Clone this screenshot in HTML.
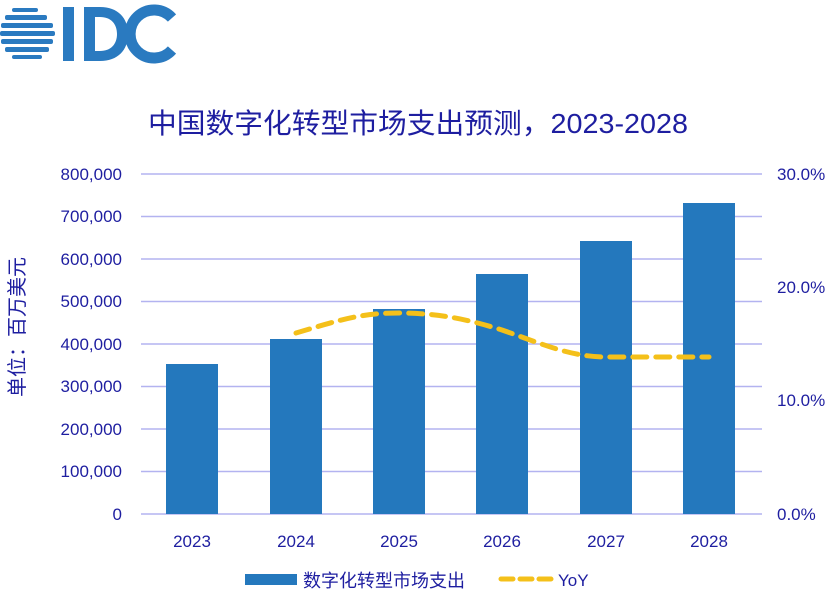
<!DOCTYPE html>
<html><head><meta charset="utf-8"><style>
body{margin:0;background:#fff;}
svg text{font-family:"Liberation Sans","Noto Sans CJK SC",sans-serif;}
</style></head><body>
<svg width="836" height="597" viewBox="0 0 836 597" xmlns="http://www.w3.org/2000/svg">
<g fill="#2a7ac0">
<rect x="12" y="8" width="26" height="4" rx="2"/>
<rect x="5" y="15" width="42" height="5" rx="2"/>
<rect x="1" y="23" width="52" height="5" rx="2"/>
<rect x="0" y="31" width="55" height="5" rx="2"/>
<rect x="1" y="39" width="52" height="5" rx="2"/>
<rect x="5" y="47" width="44" height="5" rx="2"/>
<rect x="12" y="55" width="30" height="4" rx="2"/>
<rect x="63" y="7" width="11" height="54"/>
</g>
<path d="M84 7h16c18 0 28 11 28 27s-10 27-28 27h-16z M95 17v34h5c11 0 17-7 17-17s-6-17-17-17z" fill="#2a7ac0" fill-rule="evenodd"/>
<path d="M172 18a24 24 0 1 0 0 32" fill="none" stroke="#2a7ac0" stroke-width="11"/>
<text x="418" y="133" text-anchor="middle" font-size="28" fill="#1e1ea0" textLength="540" lengthAdjust="spacingAndGlyphs">中国数字化转型市场支出预测，2023-2028</text>
<g stroke="#b3b3f0" stroke-width="1.5">
<line x1="141" y1="174" x2="762" y2="174"/><line x1="141" y1="216.5" x2="762" y2="216.5"/>
<line x1="141" y1="259" x2="762" y2="259"/><line x1="141" y1="301.5" x2="762" y2="301.5"/>
<line x1="141" y1="344" x2="762" y2="344"/><line x1="141" y1="386.5" x2="762" y2="386.5"/>
<line x1="141" y1="429" x2="762" y2="429"/><line x1="141" y1="471.5" x2="762" y2="471.5"/>
<line x1="141" y1="514" x2="762" y2="514"/>
</g>
<g fill="#2478bd">
<rect x="166" y="364" width="52" height="150"/>
<rect x="270" y="339" width="52" height="175"/>
<rect x="373" y="309" width="52" height="205"/>
<rect x="476" y="274" width="52" height="240"/>
<rect x="580" y="241" width="52" height="273"/>
<rect x="683" y="203" width="52" height="311"/>
</g>
<path d="M296 333 C340 320 360 313 399 313 C440 313 470 320 502 330 C540 343 570 357 606 357 C650 357 680 357 709 357" fill="none" stroke="#f4c01a" stroke-width="5" stroke-dasharray="14 9" stroke-linecap="round"/>
<g font-size="17" fill="#1e1ea0" text-anchor="end">
<text x="122" y="180">800,000</text><text x="122" y="222">700,000</text>
<text x="122" y="265">600,000</text><text x="122" y="307">500,000</text>
<text x="122" y="350">400,000</text><text x="122" y="392">300,000</text>
<text x="122" y="435">200,000</text><text x="122" y="477">100,000</text>
<text x="122" y="520">0</text>
</g>
<g font-size="17" fill="#1e1ea0">
<text x="777" y="180">30.0%</text><text x="777" y="293">20.0%</text>
<text x="777" y="406">10.0%</text><text x="777" y="520">0.0%</text>
</g>
<g font-size="17" fill="#1e1ea0" text-anchor="middle">
<text x="192" y="547">2023</text><text x="296" y="547">2024</text><text x="399" y="547">2025</text>
<text x="502" y="547">2026</text><text x="606" y="547">2027</text><text x="709" y="547">2028</text>
</g>
<text transform="translate(24,327) rotate(-90)" text-anchor="middle" font-size="20" fill="#1e1ea0">单位：百万美元</text>
<rect x="245" y="574" width="52" height="11" fill="#2478bd"/>
<text x="303" y="587" font-size="18" fill="#1e1ea0">数字化转型市场支出</text>
<line x1="501" y1="579" x2="551" y2="579" stroke="#f4c01a" stroke-width="5" stroke-dasharray="12 7" stroke-linecap="round"/>
<text x="558" y="586" font-size="17" fill="#1e1ea0">YoY</text>
</svg>
</body></html>
